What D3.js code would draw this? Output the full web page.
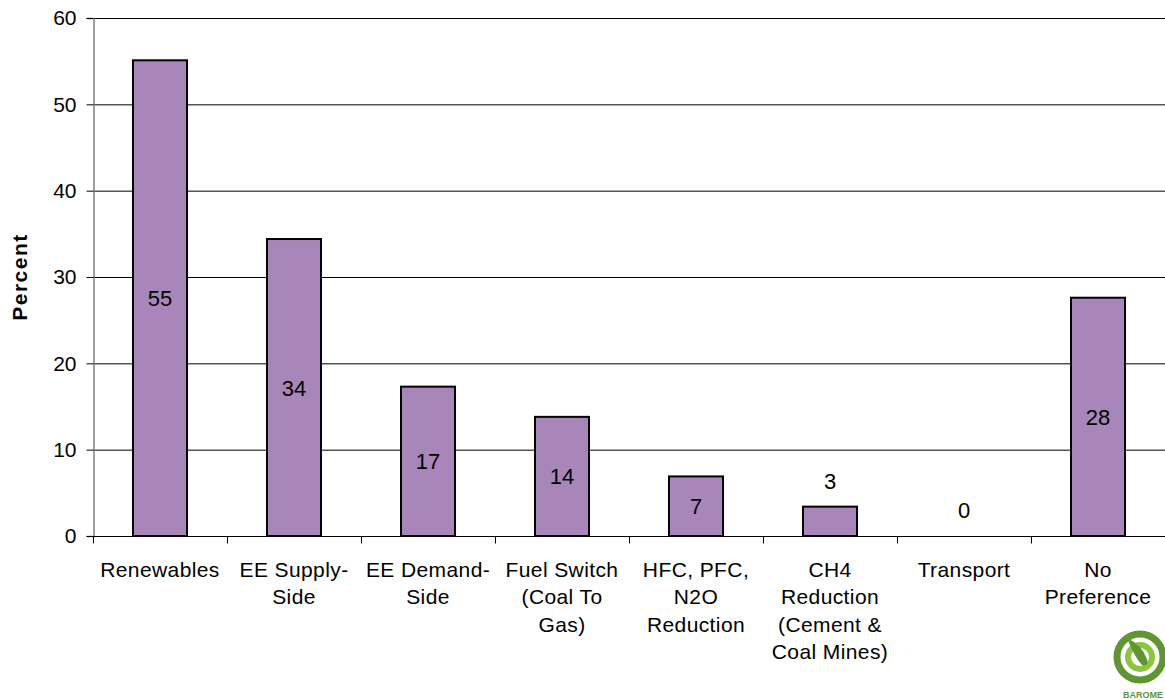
<!DOCTYPE html>
<html><head><meta charset="utf-8">
<script src="https://cdn.jsdelivr.net/npm/d3@7"></script>
<style>body{margin:0;background:#fff}svg{display:block;font-family:"Liberation Sans",Arial,sans-serif}</style>
</head><body>
<svg id="c" width="1165" height="700"></svg>
<script>
const categories = [
  ["Renewables"],
  ["EE Supply-","Side"],
  ["EE Demand-","Side"],
  ["Fuel Switch","(Coal To","Gas)"],
  ["HFC, PFC,","N2O","Reduction"],
  ["CH4","Reduction","(Cement &","Coal Mines)"],
  ["Transport"],
  ["No","Preference"]
];
const values = [55.1, 34.4, 17.3, 13.8, 6.9, 3.4, 0, 27.6];
const yTicks = [0, 10, 20, 30, 40, 50, 60];

const svg = d3.select("#c");
const m = {l:93, t:18, r:0, b:164};
const W = 1165, H = 700;
const FF = "Liberation Sans, Arial, sans-serif";
const x = d3.scaleBand().domain(d3.range(categories.length)).range([m.l, W - m.r]).paddingInner(0).paddingOuter(0);
const y = d3.scaleLinear().domain([0, 60]).range([H - m.b, m.t]);

// gridlines
svg.append("g").selectAll("line").data(yTicks.filter(d=>d>0)).join("line")
  .attr("x1", m.l).attr("x2", W).attr("y1", d=>y(d)+0.5).attr("y2", d=>y(d)+0.5)
  .attr("stroke", "#000").attr("stroke-width", 1);

// y axis
const ya = svg.append("g").attr("transform", `translate(${m.l+0.5},0)`)
  .call(d3.axisLeft(y).tickValues(yTicks).tickSize(7).tickPadding(10).tickFormat(d3.format("d")));
ya.select(".domain").attr("stroke", "#808080").attr("stroke-width", 1.5);
ya.selectAll(".tick line").attr("stroke", "#000");
ya.selectAll(".tick text").attr("font-size", 21).attr("fill", "#000").attr("font-family", FF);

// bars
const bw = 54;
svg.append("g").selectAll("rect").data(values).join("rect")
  .attr("x", (d,i)=>x(i) + x.bandwidth()/2 - bw/2)
  .attr("y", d=>y(d))
  .attr("width", bw)
  .attr("height", d=>y(0)-y(d))
  .attr("fill", "#a886b9")
  .attr("stroke", d=>d>0?"#000":"none").attr("stroke-width", 2);

// x axis
const xa = svg.append("g").attr("transform", `translate(0,${y(0)+0.5})`);
xa.append("line").attr("x1", m.l).attr("x2", W).attr("stroke", "#000");
xa.selectAll("line.tk").data(d3.range(categories.length+1)).join("line").attr("class","tk")
  .attr("x1", i=> (i<categories.length? x(i) : W) + 0.5).attr("x2", i=>(i<categories.length? x(i) : W)+0.5)
  .attr("y1", 0).attr("y2", 7).attr("stroke", "#000");
xa.selectAll("text").data(categories).join("text")
  .attr("text-anchor", "middle").attr("font-size", 21).attr("letter-spacing", 0.4).attr("fill", "#000")
  .each(function(lines, i){
    d3.select(this).selectAll("tspan").data(lines).join("tspan")
      .attr("x", x(i) + x.bandwidth()/2).attr("y", (d,j)=>40 + j*27.5).text(d=>d);
  });

// value labels
svg.append("g").selectAll("text").data(values).join("text")
  .attr("text-anchor", "middle").attr("font-size", 22).attr("fill", "#000")
  .attr("x", (d,i)=>x(i) + x.bandwidth()/2)
  .attr("y", d=> (y(0)-y(d)) > 40 ? (y(d)+y(0))/2 + 8 : y(d) - 18)
  .text(d=>d3.format(".0f")(d));

// y title
svg.append("text").attr("transform", "translate(27,277) rotate(-90)")
  .attr("text-anchor", "middle").attr("font-size", 21).attr("letter-spacing", 1.5)
  .attr("font-weight", "bold").text("Percent");

// logo
const lg = svg.append("g").attr("transform", "translate(1140,657)");
lg.append("circle").attr("r", 23).attr("fill", "none").attr("stroke", "#5f9632").attr("stroke-width", 7);
lg.append("circle").attr("r", 12).attr("fill", "none").attr("stroke", "#8cc63f").attr("stroke-width", 6);
lg.append("path").attr("d", "M-13,-19 Q2,-12 7,2 Q9,10 2,8 Q-5,1 -13,-19 Z").attr("fill", "#5f9632");
lg.append("text").attr("x", -17).attr("y", 41).attr("font-size", 9).attr("font-weight", "bold").attr("fill", "#5f9632").text("BAROME");
</script>
</body></html>
